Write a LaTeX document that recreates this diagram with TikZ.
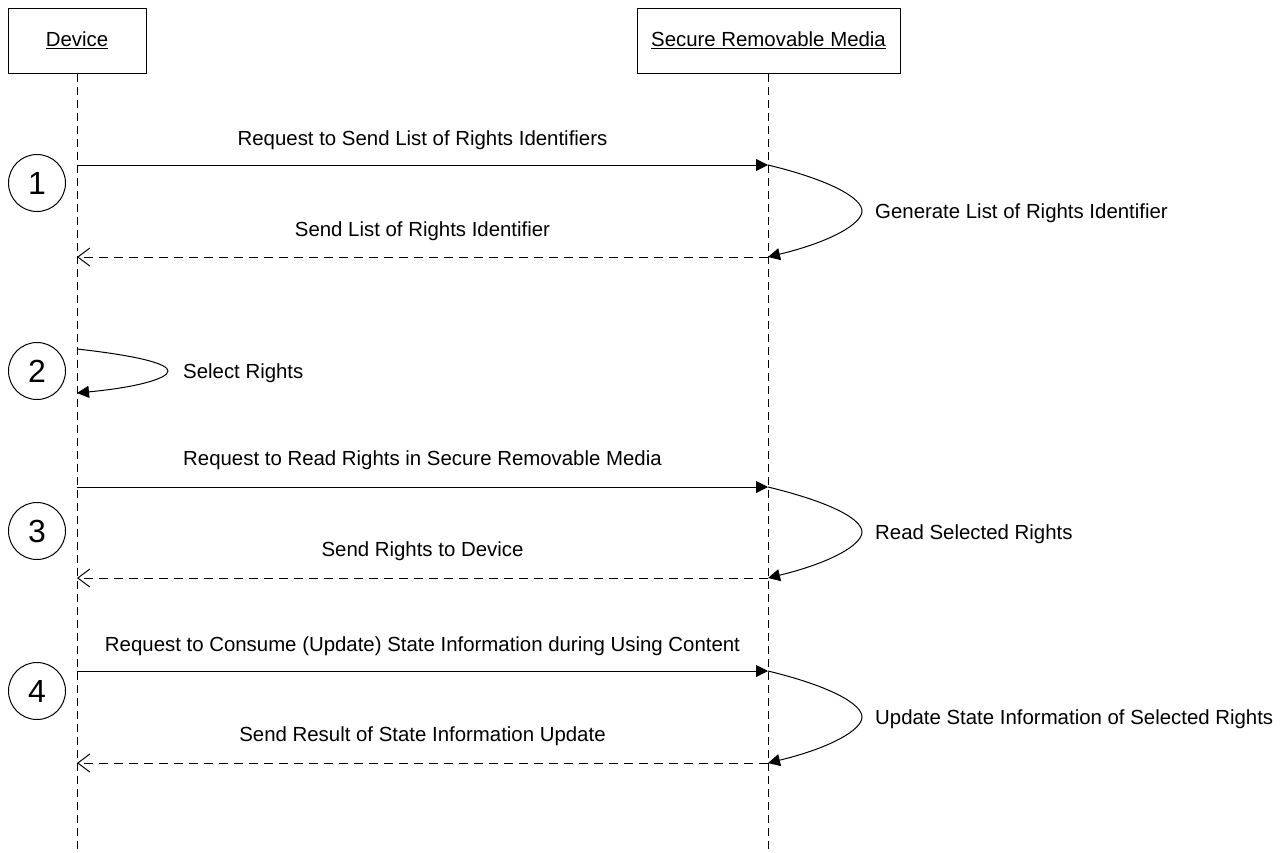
\documentclass[tikz,border=0pt]{standalone}
\usepackage{fontspec}
\setmainfont{Liberation Sans}
\usetikzlibrary{arrows.meta}
\tikzset{
  lbl/.style={font=\fontsize{20.4}{24}\selectfont, inner sep=0pt, yshift=-2pt},
  obj/.style={draw, line width=1pt, minimum width=138pt, minimum height=65pt, inner sep=0pt, font=\fontsize{20.4}{24}\selectfont},
  life/.style={line width=1pt, dash pattern=on 8pt off 5pt},
  msg/.style={line width=1pt, -{Triangle[length=12pt,width=12pt]}},
  ret/.style={line width=1pt, dash pattern=on 9pt off 6pt, -{Straight Barb[length=12pt,width=18pt,line width=1pt]}},
  loopc/.style={line width=1pt, -{Triangle[length=12pt,width=12pt]}},
  num/.style={draw, circle, line width=1pt, minimum size=57pt, inner sep=0pt, font=\fontsize{32}{36}\selectfont},
}
\begin{document}
\begin{tikzpicture}[x=1pt,y=-1pt]
\useasboundingbox (0,0) rectangle (1286,852);
% objects
\node[obj, minimum width=138pt] (dev) at (77,40.5) {\underline{Device}};
\node[obj, minimum width=263pt] (srm) at (768.5,40.5) {\underline{Secure Removable Media}};
\coordinate (devend) at (77,852);
\coordinate (srmend) at (768,852);
\draw[life] (dev.south) -- (devend);
\draw[life] (srm.south -| srmend) -- (srmend);
% step numbers
\node[num] (n1) at (37,183) {1};
\node[num] (n2) at (37,371) {2};
\node[num] (n3) at (37,531) {3};
\node[num] (n4) at (37,691) {4};
% step 1
\coordinate (d1a) at (77,165); \coordinate (s1a) at (768,165);
\coordinate (d1b) at (77,257); \coordinate (s1b) at (768,257);
\draw[msg] (d1a) -- (s1a);
\draw[ret] (s1b) -- (d1b);
\node[lbl] (m1) at (422.5,138) {Request to Send List of Rights Identifiers};
\node[lbl] (r1) at (422.5,229) {Send List of Rights Identifier};
\draw[loopc] (s1a) .. controls (830,180) and (862,198) .. (862,211) .. controls (862,224) and (830,242) .. (s1b);
\node[lbl, anchor=west] (g1) at (875,211) {Generate List of Rights Identifier};
% step 2
\coordinate (d2a) at (77,349); \coordinate (d2b) at (77,393);
\draw[loopc] (d2a) .. controls (140,356) and (168,364) .. (168,371) .. controls (168,378) and (140,387) .. (d2b);
\node[lbl, anchor=west] (g2) at (183,371) {Select Rights};
% step 3
\coordinate (d3a) at (77,487); \coordinate (s3a) at (768,487);
\coordinate (d3b) at (77,578); \coordinate (s3b) at (768,578);
\draw[msg] (d3a) -- (s3a);
\draw[ret] (s3b) -- (d3b);
\node[lbl] (m3) at (422.5,458) {Request to Read Rights in Secure Removable Media};
\node[lbl] (r3) at (422.5,549) {Send Rights to Device};
\draw[loopc] (s3a) .. controls (830,502) and (862,519) .. (862,532) .. controls (862,545) and (830,563) .. (s3b);
\node[lbl, anchor=west] (g3) at (875,532) {Read Selected Rights};
% step 4
\coordinate (d4a) at (77,671); \coordinate (s4a) at (768,671);
\coordinate (d4b) at (77,763); \coordinate (s4b) at (768,763);
\draw[msg] (d4a) -- (s4a);
\draw[ret] (s4b) -- (d4b);
\node[lbl] (m4) at (422.5,644) {Request to Consume (Update) State Information during Using Content};
\node[lbl] (r4) at (422.5,734) {Send Result of State Information Update};
\draw[loopc] (s4a) .. controls (830,686) and (862,704) .. (862,717) .. controls (862,730) and (830,748) .. (s4b);
\node[lbl, anchor=west] (g4) at (875,717) {Update State Information of Selected Rights};
\end{tikzpicture}
\end{document}
